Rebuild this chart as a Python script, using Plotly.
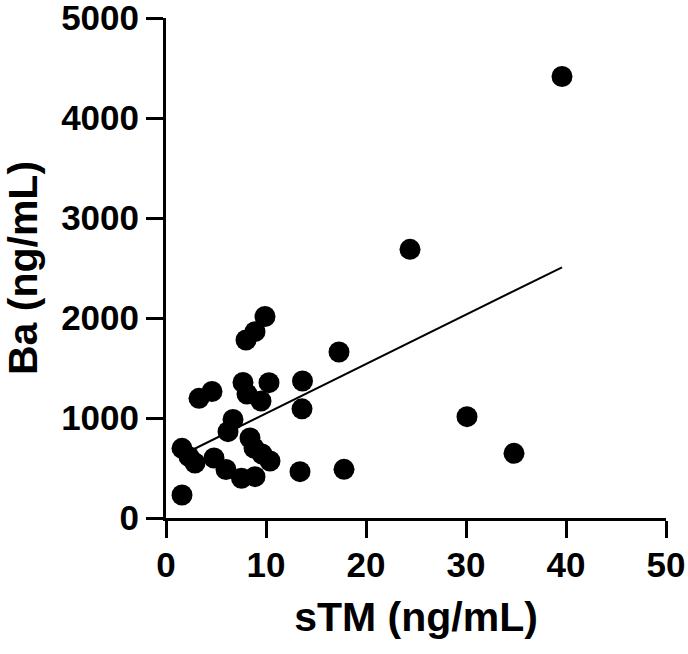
import plotly.graph_objects as go

# sTM (x) and Ba (y) values
stm = [9.9, 8.9, 8.0, 17.3, 3.3, 4.6, 7.7, 10.3, 8.1, 9.5, 13.65, 13.6,
       6.7, 6.2, 1.6, 2.3, 2.9, 4.8, 6.0, 7.55, 8.9, 10.4, 9.6, 8.4, 8.8,
       13.4, 17.8, 1.6, 24.4, 30.1, 34.8, 39.6]
ba = [2015, 1863, 1780, 1660, 1197, 1265, 1355, 1353, 1240, 1170, 1370, 1092,
      985, 863, 697, 613, 550, 600, 485, 397, 413, 570, 640, 800, 700,
      463, 487, 230, 2687, 1013, 647, 4415]

# regression line (endpoints)
fit_x = [1.6, 39.6]
fit_y = [630, 2507]

x_ticks = [0, 10, 20, 30, 40, 50]
y_ticks = [0, 1000, 2000, 3000, 4000, 5000]

fig = go.Figure()
fig.add_trace(go.Scatter(x=fit_x, y=fit_y, mode="lines",
                         line=dict(color="black", width=2), showlegend=False))
fig.add_trace(go.Scatter(x=stm, y=ba, mode="markers",
                         marker=dict(color="black", size=21, line=dict(width=0)),
                         showlegend=False))

font = "Liberation Sans, Arial, sans-serif"
fig.update_layout(
    width=688, height=654,
    margin=dict(l=166, r=22, t=18, b=136),
    paper_bgcolor="white", plot_bgcolor="white",
    font=dict(family=font, color="black"),
)
fig.update_xaxes(range=[0, 50], tickvals=x_ticks, ticks="outside", ticklen=17,
                 tickwidth=3, tickcolor="black", showline=True, linewidth=3,
                 linecolor="black", showgrid=False, zeroline=False, automargin=False,
                 ticklabeloverflow="allow", ticklabelstandoff=-3,
                 tickfont=dict(size=35, family=font, weight="bold"),
                 title=dict(text="<b>sTM (ng/mL)</b>", font=dict(size=41), standoff=20))
fig.update_yaxes(range=[0, 5000], tickvals=y_ticks, ticks="outside", ticklen=17,
                 tickwidth=3, tickcolor="black", showline=True, linewidth=3,
                 linecolor="black", showgrid=False, zeroline=False, automargin=False,
                 ticklabeloverflow="allow",
                 tickfont=dict(size=35, family=font, weight="bold"),
                 title=dict(text="<b>Ba (ng/mL)</b>", font=dict(size=41), standoff=12))

fig.write_html("out.html", config={"displayModeBar": False},
               post_script="document.body.style.margin='0';")
